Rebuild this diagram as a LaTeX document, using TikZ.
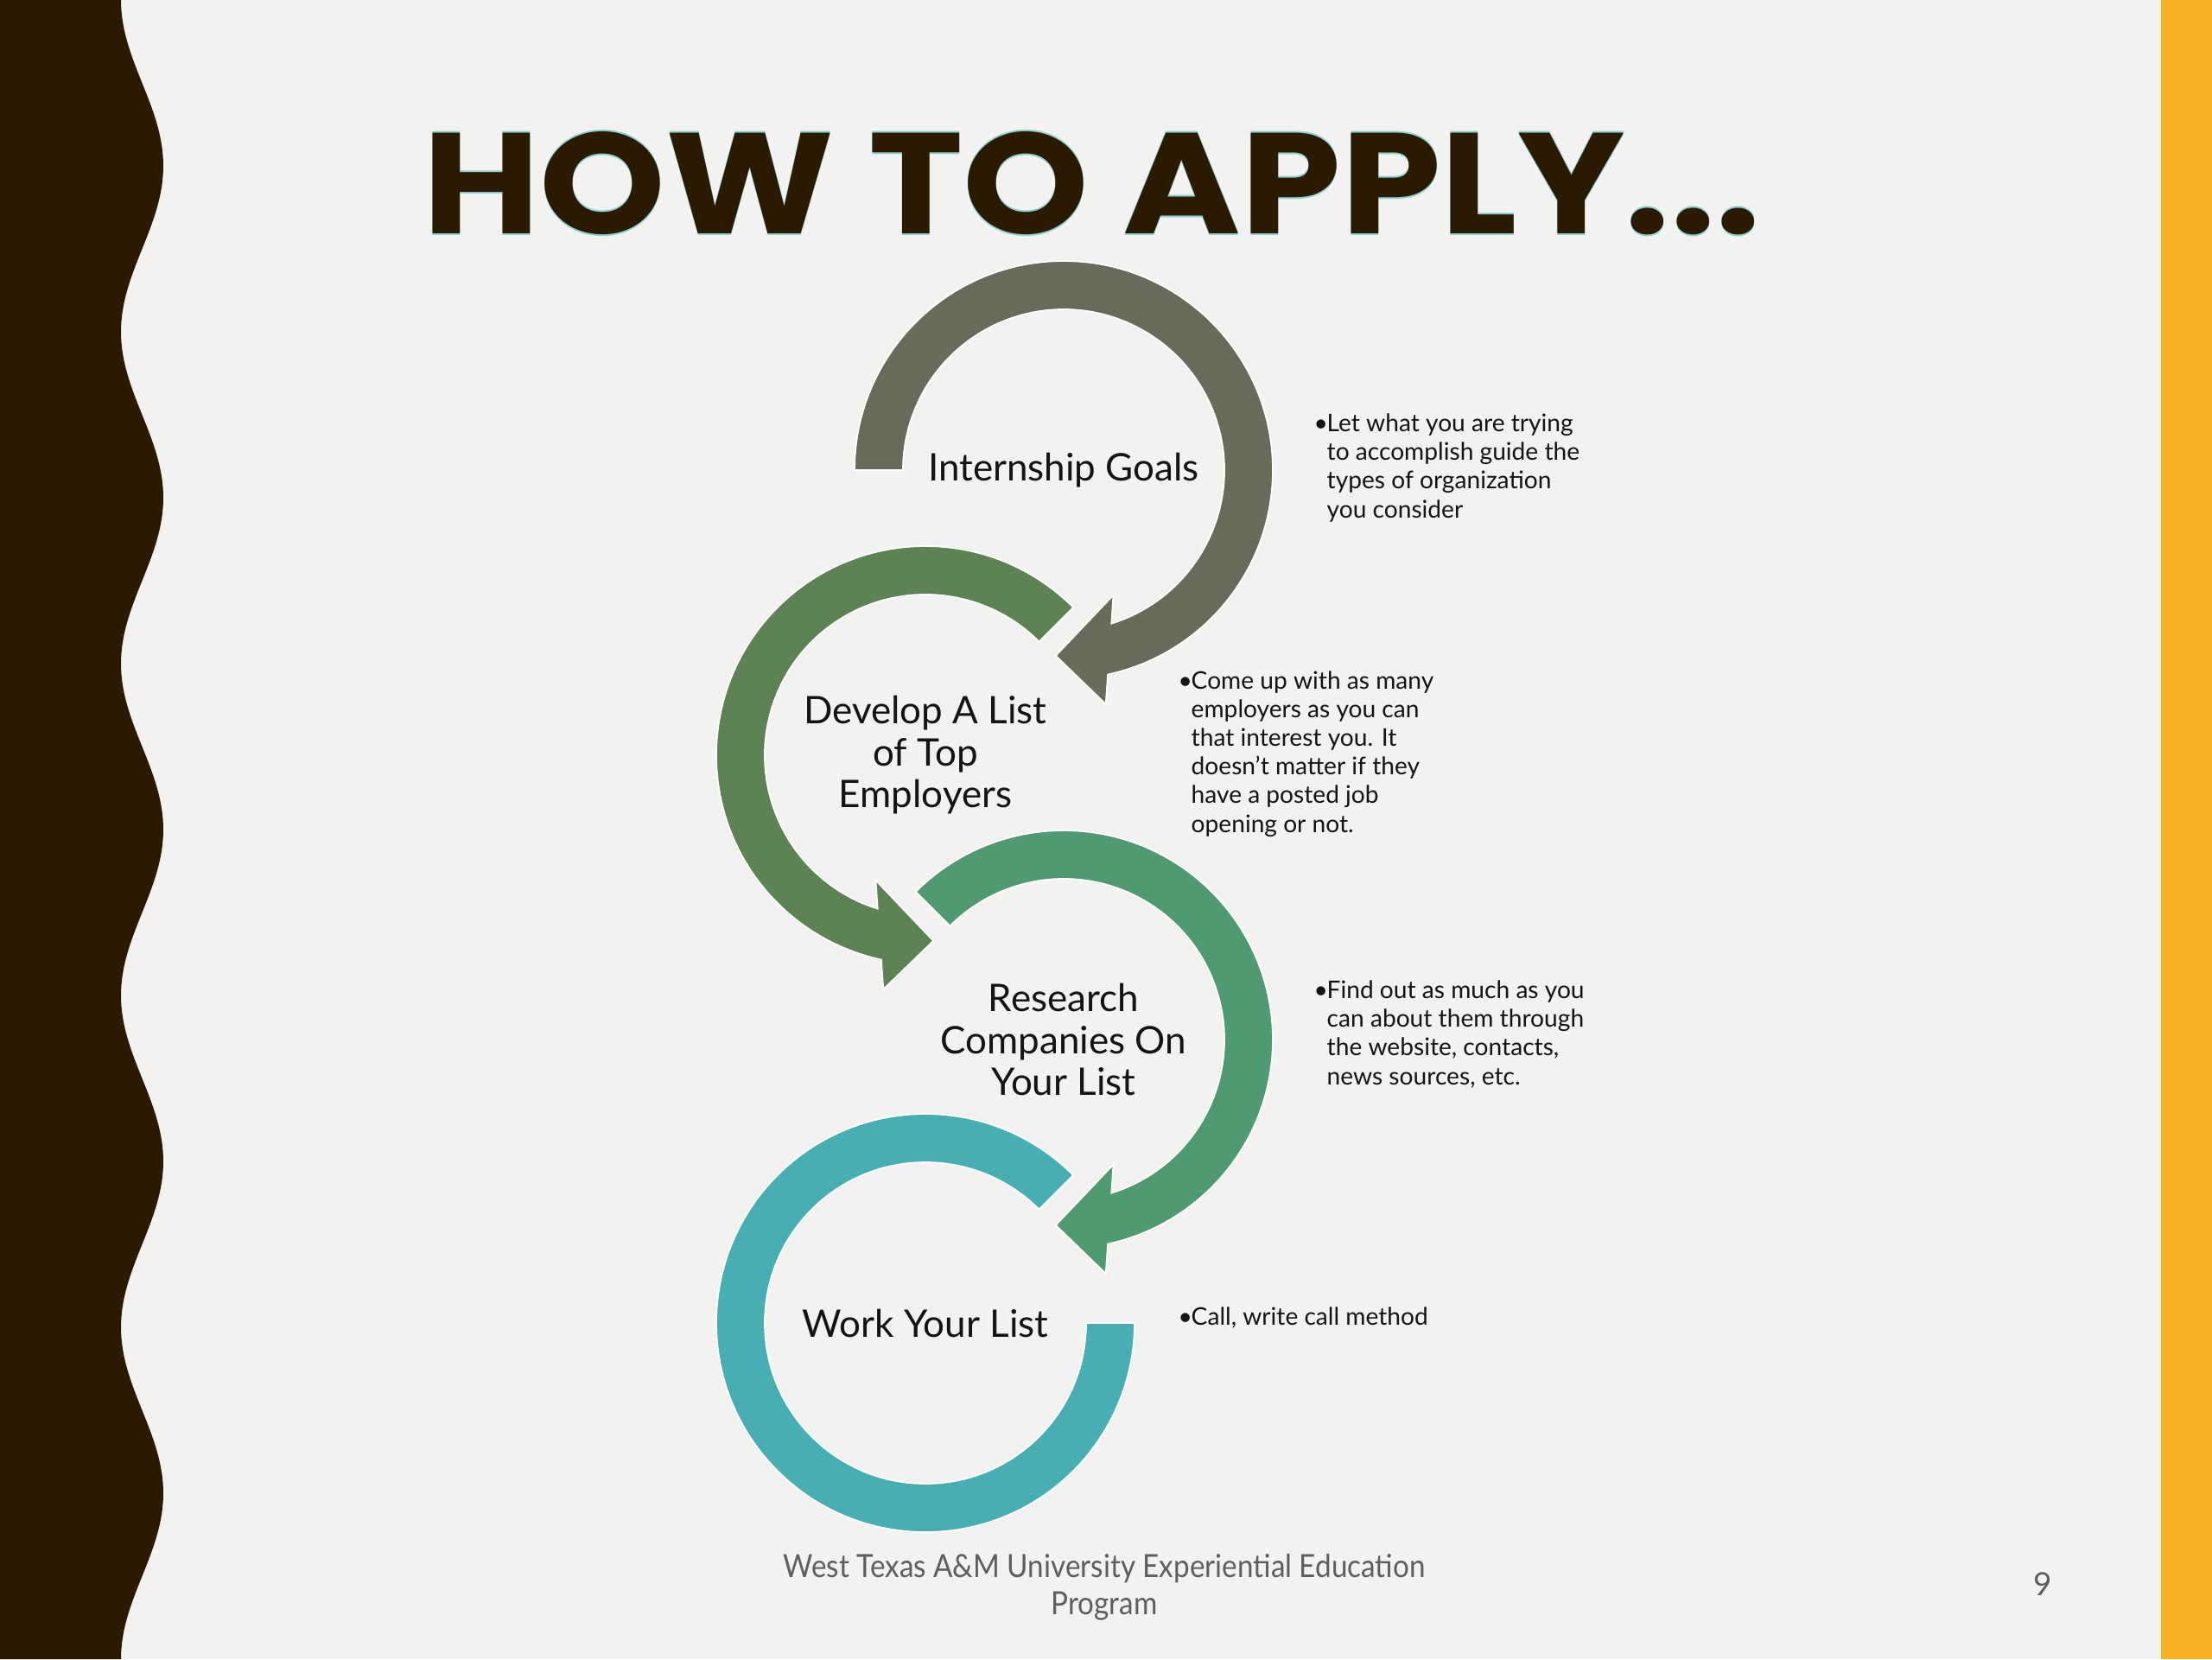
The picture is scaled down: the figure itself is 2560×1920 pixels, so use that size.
\documentclass[tikz,border=0pt]{standalone}
\usepackage{fontspec}
\usepackage{graphicx}
\setmainfont{Lato}
\newfontfamily\titlefont{Poppins}
\definecolor{slidebg}{HTML}{F2F2F0}
\definecolor{darkbrown}{HTML}{2A1A02}
\definecolor{gold}{HTML}{F7B125}
\definecolor{ringA}{HTML}{676B59}
\definecolor{ringB}{HTML}{5D8354}
\definecolor{ringC}{HTML}{4F9A71}
\definecolor{ringD}{HTML}{47AFB3}
\definecolor{txt}{HTML}{141414}
\definecolor{foot}{HTML}{5E5E5E}
\definecolor{glow}{HTML}{8CCFCD}
\newcommand\titletext{\resizebox{15.47cm}{1.18cm}{\titlefont\bfseries HOW TO APPLY...}}
\begin{document}
\begin{tikzpicture}[x=0.01cm, y=-0.01cm,
  ring/.style={draw=white, line width=0.5pt, line join=miter},
  steplabel/.style={font=\fontsize{12.5}{13.8}\selectfont, text=txt, align=center, inner sep=0pt},
  note/.style={font=\fontsize{8}{9.4}\selectfont, text=txt, align=left, inner sep=0pt, anchor=base west},
  footer/.style={font=\fontsize{10.5}{12}\selectfont, text=foot, inner sep=0pt},
  titlestyle/.style={anchor=base, inner sep=0pt}
  ]
\useasboundingbox (0,0) rectangle (2560,1920);
\fill[slidebg] (0,0) rectangle (2560,1920);
\fill[darkbrown] (0,0) -- plot[variable=\t, domain=0:1920, samples=321] ({164.5-24.5*cos(\t/384*360)}, \t) -- (0,1920) -- cycle;
\fill[gold] (2501,0) rectangle (2560,1920);

\node[titlestyle, text=glow] (titleA) at (1263.5,268) {\titletext};
\node[titlestyle, text=glow] (titleB) at (1263.5,272) {\titletext};
\node[titlestyle, text=darkbrown] (title) at (1263.5,270) {\titletext};

\coordinate (o1) at (1231,544);
\coordinate (o2) at (1071,874);
\coordinate (o3) at (1231,1203);
\coordinate (o4) at (1071,1531);

\node[steplabel] (c1) at (o1) {Internship Goals};
\node[steplabel] (c2) at (o2) {Develop A List\\of Top\\Employers};
\node[steplabel] (c3) at (o3) {Research\\Companies On\\Your List};
\node[steplabel] (c4) at (o4) {Work Your List};

\begin{scope}[shift={(o1)}]
\filldraw[ring, fill=ringA] (180:242) arc[start angle=180, end angle=437.8, radius=242] -- (79.8:275.2) -- (92.45:215) -- (68.3:155.6) -- (72.7:186) arc[start angle=432.7, end angle=180, radius=186] -- cycle;
\end{scope}
\begin{scope}[shift={(o2)}, xscale=-1]
\filldraw[ring, fill=ringB] (225:242) arc[start angle=225, end angle=437.8, radius=242] -- (79.8:275.2) -- (92.45:215) -- (68.3:155.6) -- (72.7:186) arc[start angle=432.7, end angle=225, radius=186] -- cycle;
\end{scope}
\begin{scope}[shift={(o3)}]
\filldraw[ring, fill=ringC] (225:242) arc[start angle=225, end angle=437.8, radius=242] -- (79.8:275.2) -- (92.45:215) -- (68.3:155.6) -- (72.7:186) arc[start angle=432.7, end angle=225, radius=186] -- cycle;
\end{scope}
\begin{scope}[shift={(o4)}, xscale=-1]
\filldraw[ring, fill=ringD] (225:242) arc[start angle=225, end angle=540, radius=242] -- (540:186) arc[start angle=540, end angle=225, radius=186] -- cycle;
\end{scope}

\node[note] (n1) at (1520,599) {\makebox[0.15cm][l]{•}Let what you are trying\\\hspace*{0.15cm}to accomplish guide the\\\hspace*{0.15cm}types of organization\\\hspace*{0.15cm}you consider};
\node[note] (n2) at (1363,963) {\makebox[0.15cm][l]{•}Come up with as many\\\hspace*{0.15cm}employers as you can\\\hspace*{0.15cm}that interest you. It\\\hspace*{0.15cm}doesn’t matter if they\\\hspace*{0.15cm}have a posted job\\\hspace*{0.15cm}opening or not.};
\node[note] (n3) at (1520,1255) {\makebox[0.15cm][l]{•}Find out as much as you\\\hspace*{0.15cm}can about them through\\\hspace*{0.15cm}the website, contacts,\\\hspace*{0.15cm}news sources, etc.};
\node[note] (n4) at (1363,1533) {\makebox[0.15cm][l]{•}Call, write call method};

\node[footer, align=center, anchor=base] (foot) at (1278,1868) {\scalebox{0.9}[1]{West Texas A\&M University Experiential Education}\\\scalebox{0.9}[1]{Program}};
\node[footer, anchor=base] (pg) at (2364,1846) {9};
\end{tikzpicture}
\end{document}
